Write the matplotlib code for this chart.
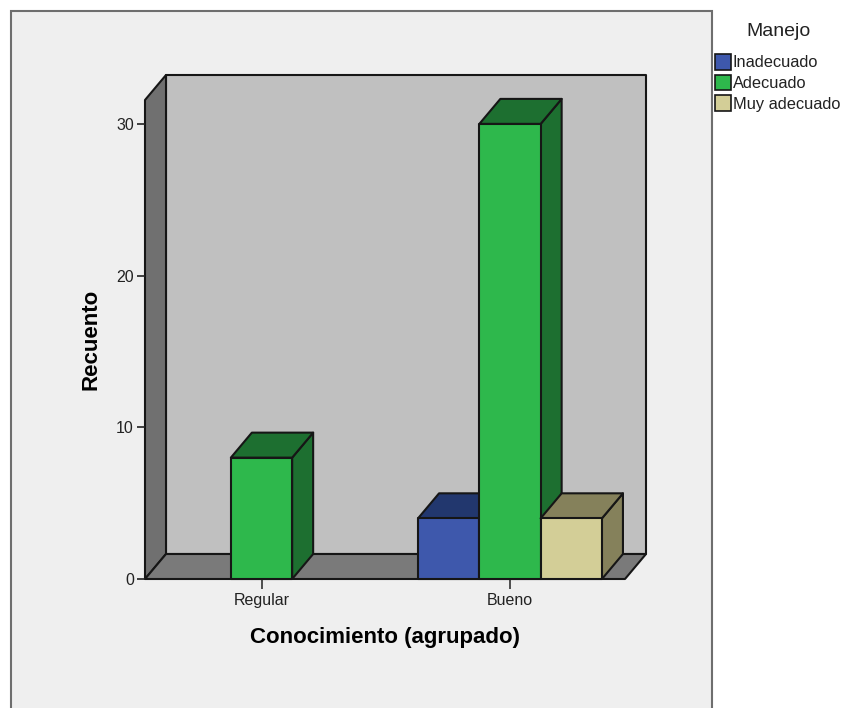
import matplotlib.pyplot as plt
from matplotlib.patches import Patch, Polygon, Rectangle

plt.rcParams['font.family'] = ['Liberation Sans', 'DejaVu Sans']

categories = ['Regular', 'Bueno']
series_names = ['Inadecuado', 'Adecuado', 'Muy adecuado']
inadecuado = [0, 4]
adecuado = [8, 30]
muy_adecuado = [0, 4]
y_ticks = [0, 10, 20, 30]

front_colors = ['#3E58AC', '#2EB84C', '#D3CE97']
side_colors = ['#22376E', '#1D6F30', '#85815B']
EDGE = '#161616'

# figure size and pixel layout of the plot box
W, H = 842, 708
LEFT, RIGHT, BOTTOM, TOP = 145, 646, 579, 75
PX_PER_COUNT = 15.17
PX_PER_GROUP = 248.5
X0_PX = 261.5

# depth of the fake 3D box, converted to data units
DX = 21 / PX_PER_GROUP
DY = 25 / PX_PER_COUNT
BAR_W = 61.3 / PX_PER_GROUP

fig = plt.figure(figsize=(W / 100, H / 100), dpi=100, facecolor='white')

# grey chart panel, its lower edge runs past the bottom of the image
fig.add_artist(Rectangle((10.5 / W, -0.02), (712 - 10.5) / W, (H - 10.5) / H + 0.02,
                         transform=fig.transFigure, facecolor='#EFEFEF',
                         edgecolor='#6E6E6E', linewidth=1.5, zorder=-1))

ax = fig.add_axes([LEFT / W, (H - BOTTOM) / H, (RIGHT - LEFT) / W, (BOTTOM - TOP) / H])
ax.patch.set_visible(False)
ax.set_xlim((LEFT - X0_PX) / PX_PER_GROUP, (RIGHT - X0_PX) / PX_PER_GROUP)
ax.set_ylim(0, (BOTTOM - TOP) / PX_PER_COUNT)
for spine in ax.spines.values():
    spine.set_visible(False)


def poly(points, color, zorder=2):
    ax.add_patch(Polygon(points, closed=True, facecolor=color, edgecolor=EDGE,
                         linewidth=1.5, joinstyle='round', clip_on=False, zorder=zorder))


def bar3d(x_left, height, front, side):
    x_right = x_left + BAR_W
    poly([(x_right, 0), (x_right + DX, DY), (x_right + DX, height + DY), (x_right, height)], side)
    poly([(x_left, height), (x_right, height), (x_right + DX, height + DY), (x_left + DX, height + DY)], side)
    poly([(x_left, 0), (x_right, 0), (x_right, height), (x_left, height)], front)


# walls and floor of the box
x_min, x_max = ax.get_xlim()
y_max = ax.get_ylim()[1]
poly([(x_min + DX, DY), (x_max, DY), (x_max, y_max), (x_min + DX, y_max)], '#C0C0C0', zorder=1)
poly([(x_min, 0), (x_min + DX, DY), (x_min + DX, y_max), (x_min, y_max - DY)], '#707070', zorder=1)
poly([(x_min, 0), (x_max - DX, 0), (x_max, DY), (x_min + DX, DY)], '#7A7A7A', zorder=1)

# bars, left to right so nearer faces cover the sides behind them
series = [inadecuado, adecuado, muy_adecuado]
for i in range(len(categories)):
    for j, values in enumerate(series):
        if values[i] > 0:
            bar3d(i + (j - 1.5) * BAR_W, values[i], front_colors[j], side_colors[j])

ax.set_xticks(range(len(categories)))
ax.set_xticklabels(categories, fontsize=11.5, color='#222222')
ax.set_yticks(y_ticks)
ax.set_yticklabels([str(v) for v in y_ticks], fontsize=11.5, color='#222222')
ax.tick_params(axis='x', length=7, width=1.2, color='#333333', pad=3)
ax.tick_params(axis='y', length=6, width=1.2, color='#222222', pad=2)

ax.set_xlabel('Conocimiento (agrupado)', fontsize=16, fontweight='bold', va='center')
ax.xaxis.set_label_coords((385.5 - LEFT) / (RIGHT - LEFT), (BOTTOM - 637) / (BOTTOM - TOP))
ax.set_ylabel('Recuento', fontsize=16, fontweight='bold', va='center')
ax.yaxis.set_label_coords((91 - LEFT) / (RIGHT - LEFT), (BOTTOM - 339) / (BOTTOM - TOP))

handles = [Patch(facecolor=c, edgecolor=EDGE, linewidth=1.2) for c in front_colors]
fig.legend(handles, series_names, fontsize=11.8,
           loc='upper left', bbox_to_anchor=(715 / W, 1 - 54 / H), frameon=False,
           borderaxespad=0, borderpad=0, handlelength=0.95, handleheight=1.1,
           handletextpad=0.12, labelspacing=0.26, labelcolor='#222222')
fig.text(778 / W, 1 - 31.5 / H, 'Manejo', fontsize=14, color='#222222', ha='center', va='center')

fig.savefig('out.png', dpi=100)
